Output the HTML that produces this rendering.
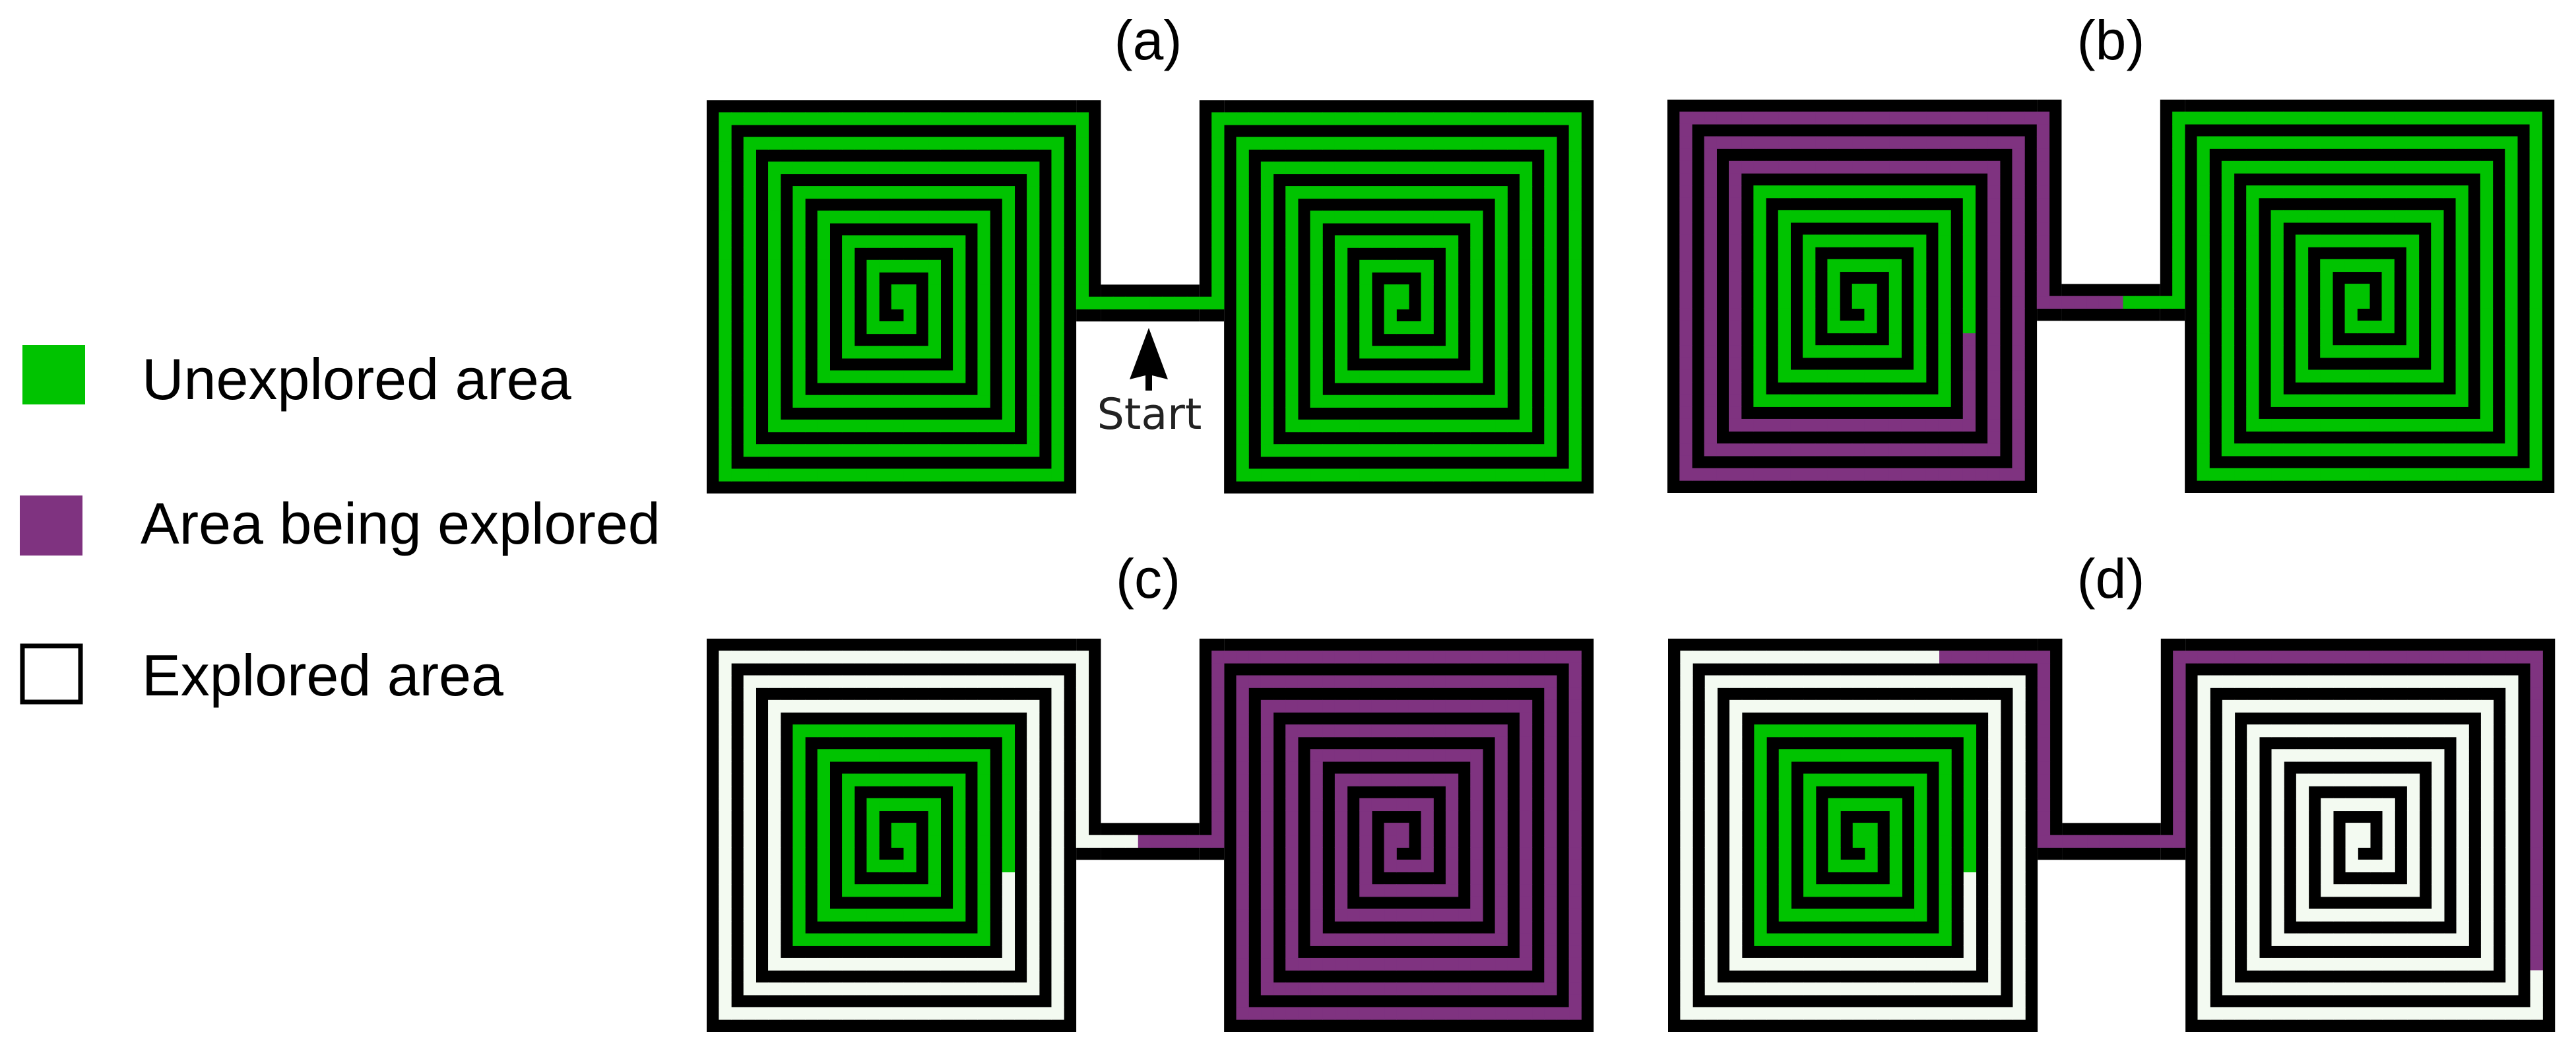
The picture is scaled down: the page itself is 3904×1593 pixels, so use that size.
<!DOCTYPE html>
<html><head><meta charset="utf-8">
<style>
html,body{margin:0;padding:0;background:#fff;}
body{width:3904px;height:1593px;overflow:hidden;}
svg{display:block;}
</style></head>
<body>
<svg id="s" xmlns="http://www.w3.org/2000/svg" width="3904" height="1593" viewBox="0 0 3904 1593">
<rect width="3904" height="1593" fill="#fff"/>
<g font-family="Liberation Sans, Arial, sans-serif" fill="#000">
<text x="1740" y="90" font-size="84" text-anchor="middle">(a)</text>
<text x="3199" y="90" font-size="84" text-anchor="middle">(b)</text>
<text x="1740" y="906" font-size="84" text-anchor="middle">(c)</text>
<text x="3199" y="906" font-size="84" text-anchor="middle">(d)</text>
<rect x="34" y="523" width="95" height="90" fill="#00c300"/>
<text x="215" y="605" font-size="88">Unexplored area</text>
<rect x="30" y="751" width="95" height="91" fill="#7f3380"/>
<text x="213" y="824" font-size="88">Area being explored</text>
<rect x="34" y="979" width="88" height="85" fill="#fff" stroke="#000" stroke-width="7"/>
<text x="215" y="1054" font-size="88">Explored area</text>
</g>
<g id="mazes"></g>
<g>
<polygon points="1741,497 1770,575 1746,569 1746,592 1736,592 1736,569 1712,575" fill="#000"/>
<text x="1742" y="650" font-size="65" text-anchor="middle" font-family="DejaVu Sans, sans-serif" fill="#222">Start</text>
</g>
</svg>
<script>
(function(){
var CW=18.67, CH=18.625;
var G="#00c300", P="#7f3380", W="#f3faf1";
function buildLh(){
  var p=[],c,x,y,k,tx,ty;
  for(c=35;c>=30;c--) p.push([c,16]);
  for(y=15;y>=1;y--) p.push([30,y]);
  x=30;y=1;
  for(k=0;;k++){
    tx=2*k+1; if(tx>=x) break; for(var i=x-1;i>=tx;i--) p.push([i,y]); x=tx;
    ty=30-2*k; if(ty<=y) break; for(var i=y+1;i<=ty;i++) p.push([x,i]); y=ty;
    tx=28-2*k; if(tx<=x) break; for(var i=x+1;i<=tx;i++) p.push([i,y]); x=tx;
    ty=2*k+3; if(ty>=y) break; for(var i=y-1;i>=ty;i--) p.push([x,i]); y=ty;
  }
  return p;
}
var Lh=buildLh();
function idx(c,r){for(var i=0;i<Lh.length;i++){if(Lh[i][0]==c&&Lh[i][1]==r)return i;}return -1;}
var Tb=idx(24,19), Td1=idx(22,1), Td2=idx(1,26);
var panels=[
 {x:1071,y:152,L:function(i){return G;},R:function(i){return G;}},
 {x:2527,y:151,L:function(i){return i<=Tb?P:G;},R:function(i){return i==0?P:G;}},
 {x:1071,y:968,L:function(i){return i==0?P:(i<=Tb?W:G);},R:function(i){return P;}},
 {x:2528,y:968,L:function(i){return i<=Td1?P:(i<=Tb?W:G);},R:function(i){return i<=Td2?P:W;}}
];
var out=[];
function rect(x,y,w,h,f){out.push('<rect x="'+x.toFixed(2)+'" y="'+y.toFixed(2)+'" width="'+w.toFixed(2)+'" height="'+h.toFixed(2)+'" fill="'+f+'"/>');}
panels.forEach(function(pn){
  var X=pn.x,Y=pn.y;
  function blk(c0,r0,c1,r1){rect(X+c0*CW,Y+r0*CH,(c1-c0+1)*CW,(r1-r0+1)*CH,"#000");}
  blk(0,0,29,31); blk(30,0,31,17); blk(32,15,39,17); blk(40,0,41,17); blk(42,0,71,31);
  for(var i=0;i<Lh.length;i++){
    var c=Lh[i][0],r=Lh[i][1];
    rect(X+c*CW-0.3,Y+r*CH-0.3,CW+0.6,CH+0.6,pn.L(i));
    var mc=71-c;
    rect(X+mc*CW-0.3,Y+r*CH-0.3,CW+0.6,CH+0.6,pn.R(i));
  }
});
document.getElementById("mazes").innerHTML=out.join("");
})();
</script>
</body></html>
